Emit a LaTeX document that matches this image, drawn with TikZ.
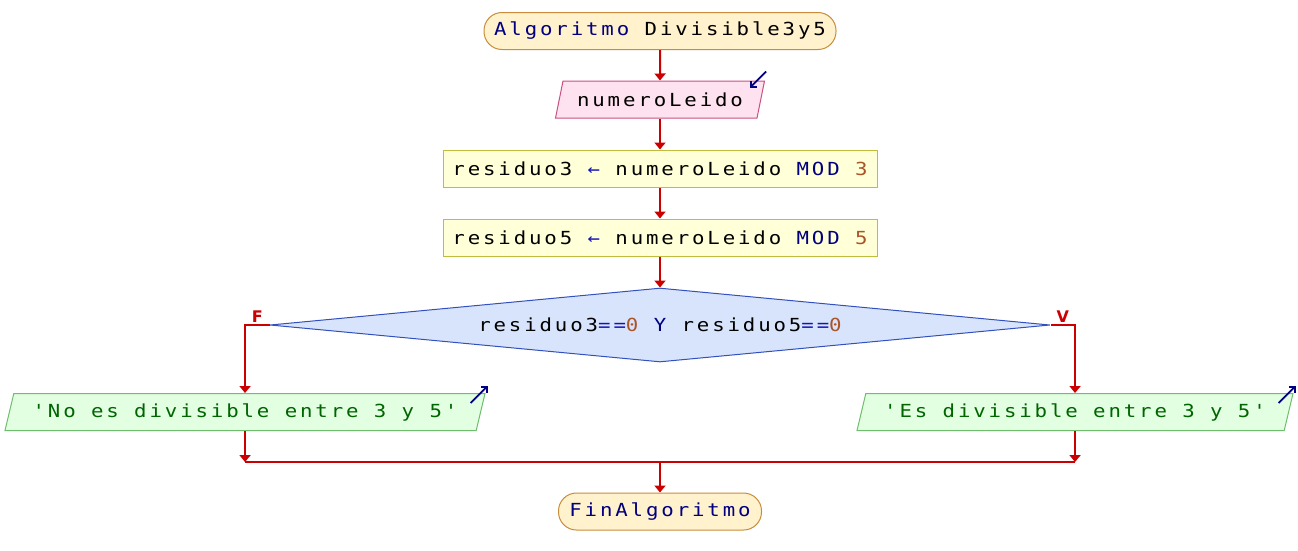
\documentclass[tikz,border=0pt]{standalone}
\usepackage{fontspec}
\usepackage{xcolor}
\usetikzlibrary{shapes.geometric,arrows.meta,calc,positioning}
\newfontfamily\psefont[FakeStretch=1.15,LetterSpace=16]{DejaVu Sans Mono}
\newfontfamily\tagfont{DejaVu Sans}
\definecolor{kwcol}{RGB}{0,0,128}
\definecolor{opcol}{RGB}{20,20,180}
\definecolor{numcol}{RGB}{170,85,40}
\definecolor{strcol}{RGB}{0,100,0}
\definecolor{flowcol}{RGB}{204,0,0}
\definecolor{termfill}{RGB}{255,242,204}
\definecolor{termdraw}{RGB}{200,140,60}
\definecolor{infill}{RGB}{255,226,240}
\definecolor{indraw}{RGB}{200,80,130}
\definecolor{asgfill}{RGB}{255,255,216}
\definecolor{asgdraw}{RGB}{190,190,60}
\definecolor{decfill}{RGB}{216,228,252}
\definecolor{decdraw}{RGB}{50,80,190}
\definecolor{outfill}{RGB}{226,255,226}
\definecolor{outdraw}{RGB}{110,190,110}
\def\kw#1{\textcolor{kwcol}{#1}}
\def\op#1{\textcolor{opcol}{#1}}
\def\num#1{\textcolor{numcol}{#1}}

\begin{document}
\begin{tikzpicture}
    [x=1pt,y=-1pt,
    every node/.style={
      font=\psefont\fontsize{18}{20}\selectfont
    },
    term/.style={
      rectangle,
      draw=termdraw,
      fill=termfill,
      line width=1pt,
      rounded corners=18pt,
      minimum height=37pt
    },
    block/.style={
      rectangle,
      draw=asgdraw,
      fill=asgfill,
      line width=1pt,
      minimum width=434pt,
      minimum height=37pt
    },
    io/.style={
      trapezium,
      trapezium left angle=70,
      trapezium right angle=110,
      trapezium stretches body,
      line width=1pt,
      minimum height=37pt
    },
    decision/.style={
      diamond,
      aspect=10.5,
      draw=decdraw,
      fill=decfill,
      line width=1pt,
      inner sep=0pt,
      minimum width=780pt,
      minimum height=74pt
    },
    line/.style={
      draw=flowcol,
      line width=2pt,
      -{Triangle[length=7pt,width=11pt]}
    },
    icon/.style={
      draw=kwcol,
      line width=1.8pt,
      -{Straight Barb[length=4pt,width=8pt]}
    },
    tag/.style={
      font=\tagfont\bfseries\fontsize{16}{18}\selectfont,
      text=flowcol,
      inner sep=2pt
    }
  ]
    \useasboundingbox (0,0) rectangle (1298,550);
    \draw (660,31) node[term, minimum width=352pt] (A) {\kw{Algoritmo} Divisible3y5};
    \draw (660,99.5) node[io, draw=indraw, fill=infill, minimum width=209pt] (B) {numeroLeido};
    \path (660,168.5) node[block] (C) {residuo3 \op{←} numeroLeido \kw{MOD} \num{3}}
          (660,237.5) node[block] (D) {residuo5 \op{←} numeroLeido \kw{MOD} \num{5}};
    \draw (660,325) node[decision] (E) {residuo3\op{==}\num{0} \kw{Y} residuo5\op{==}\num{0}};
    \draw (245,412) node[io, draw=outdraw, fill=outfill, text=strcol, minimum width=480pt] (F) {'No es divisible entre 3 y 5'};
    \draw (1075,412) node[io, draw=outdraw, fill=outfill, text=strcol, minimum width=436pt] (G) {'Es divisible entre 3 y 5'};
    \coordinate (M) at (660,462);
    \draw (660,511.5) node[term, minimum width=203pt] (H) {\kw{FinAlgoritmo}};
    \draw[icon] ($(B.top right corner)+(1,-9)$) -- ++(-16,16);
    \draw[icon] ($(F.top right corner)+(-15,10)$) -- ++(17,-17);
    \draw[icon] ($(G.top right corner)+(-15,10)$) -- ++(17,-17);
    \draw[line] (A) -- (B);
    \draw[line] (B) -- (C);
    \draw[line] (C) -- (D);
    \draw[line] (D) -- (E);
    \draw[line] (E.west) -| node[tag, pos=0.25, above] {F} (F.north);
    \draw[line] (E.east) -| node[tag, pos=0.25, above] {V} (G.north);
    \draw[line] (F.south) -- (F.south |- M);
    \draw[line] (G.south) -- (G.south |- M);
    \draw[draw=flowcol, line width=2pt] (F.south |- M) -- (G.south |- M);
    \draw[line] (M) -- (H);
\end{tikzpicture}
\end{document}
